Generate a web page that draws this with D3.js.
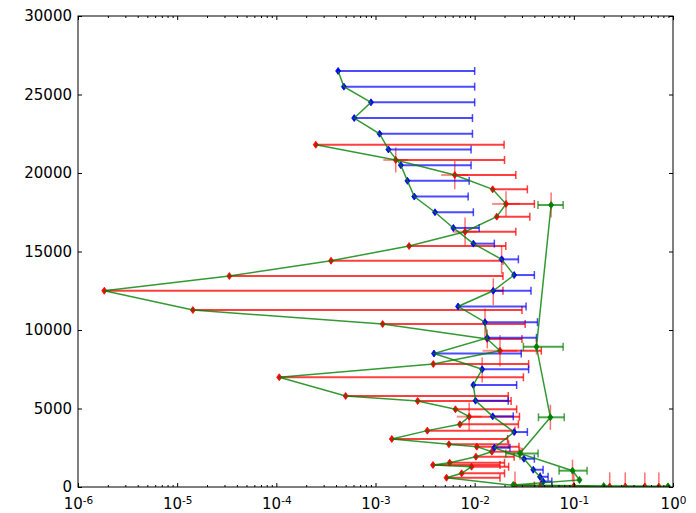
<!DOCTYPE html>
<html>
<head>
<meta charset="utf-8">
<script src="https://cdn.jsdelivr.net/npm/d3@7"></script>
<style>
  body { margin: 0; background: #fff; }
  text { font-family: "DejaVu Sans", sans-serif; }
</style>
</head>
<body>
<div id="chart-area"></div>
<script>
// blue series: points with one-sided (upper) x error
const blueY = [26500, 25500, 24500, 23500, 22500, 21500, 20500, 19500, 18500, 17500,
  16500, 15500, 14500, 13500, 12500, 11500, 10500, 9500, 8500, 7500,
  6500, 5500, 4500, 3500, 2500, 1800, 1100, 650, 350]
const blueX = [4.2e-4, 4.8e-4, 9.0e-4, 6.1e-4, 1.1e-3, 1.35e-3, 1.8e-3, 2.1e-3, 2.46e-3, 3.98e-3,
  6.1e-3, 9.7e-3, 0.0187, 0.025, 0.0154, 6.8e-3, 0.0127, 0.0134, 3.89e-3, 0.0119,
  9.7e-3, 0.0102, 0.0152, 0.025, 0.0158, 0.0314, 0.039, 0.0456, 0.049]
const blueXHi = [0.01, 0.01, 0.01, 0.0095, 0.0095, 0.0092, 0.0092, 0.0088, 0.0086, 0.0097,
  0.0111, 0.0158, 0.0276, 0.04, 0.037, 0.033, 0.043, 0.042, 0.0295, 0.035,
  0.0265, 0.0218, 0.0245, 0.034, 0.0227, 0.04, 0.049, 0.055, 0.06]

// red series
const redY = [21800, 20830, 19870, 18960, 18030, 17220, 16260, 15350, 14410, 13440,
  12500, 11270, 10380, 9430, 8680, 7830, 6990, 5800, 5480, 4950,
  4480, 3990, 3590, 3060, 2720, 2570, 2250, 1930, 1550, 1400,
  1290, 870, 590, 90, 60, 60, 30, 30, 30, 20]
const redX = [2.5e-4, 1.6e-3, 6.3e-3, 0.0152, 0.0207, 0.0167, 8e-3, 2.18e-3, 3.56e-4, 3.36e-5,
  1.84e-6, 1.44e-5, 1.18e-3, 0.0134, 0.018, 3.83e-3, 1.07e-4, 5.0e-4, 2.66e-3, 6.4e-3,
  8.8e-3, 7.1e-3, 3.33e-3, 1.46e-3, 5.5e-3, 0.0105, 0.0149, 0.0103, 5.6e-3, 3.8e-3,
  9.3e-3, 7.4e-3, 5.2e-3, 0.0255, 0.046, 0.10, 0.23, 0.33, 0.52, 0.72]
const redXHi = [0.0198, 0.02, 0.026, 0.034, 0.04, 0.036, 0.026, 0.0206, 0.0193, 0.0193,
  0.0193, 0.03, 0.0323, 0.03, 0.047, 0.035, 0.031, 0.0218, 0.0233, 0.0265,
  0.0283, 0.0276, 0.0255, 0.0215, 0.022, 0.028, 0.03, 0.025, 0.02, 0.018,
  0.022, 0.02, 0.018, 0.04, 0.06, null, null, null, null, null]
const redXLo = [null, 1.2e-3, 4.6e-3, null, 0.015, null, 6e-3, null, null, null,
  null, null, null, null, 0.012, null, null, null, null, null,
  6.6e-3, null, null, null, null, null, null, null, null, null,
  null, null, null, null, null, 0.07, null, null, null, null]
const redYErr = [null, 800, 900, null, 800, null, 900, null, null, null,
  null, null, null, 600, 1000, null, null, null, null, null,
  900, null, null, null, null, null, null, null, null, null,
  null, null, null, 900, 900, 900, 900, 900, 900, 900]

// red vertical errors sitting under blue points
const redLoneX = [0.0187, 0.0154, 0.0127, 0.0119]
const redLoneY = [14460, 12440, 10420, 7450]
const redLoneErr = [900, 850, 950, 800]

// green series
const greenY = [17960, 8930, 4440, 2140, 1040, 450, 130, 60, 40]
const greenX = [0.059, 0.042, 0.058, 0.0286, 0.097, 0.114, 0.0245, 0.2, 0.89]
const greenXLo = [0.0435, 0.031, 0.044, 0.0206, 0.071, null, null, null, null]
const greenXHi = [0.078, 0.078, 0.08, 0.0436, 0.136, null, null, null, null]
const greenYErr = [800, 500, 800, 400, 700, null, null, null, null]

const xExponents = [-6, -5, -4, -3, -2, -1, 0]
const yTicks = [0, 5000, 10000, 15000, 20000, 25000, 30000]

const LEFT = 78, RIGHT = 673, TOP = 16, BOTTOM = 487

const svg = d3.select("#chart-area").append("svg")
  .attr("width", 696)
  .attr("height", 513)

const x = d3.scaleLog().domain([1e-6, 1]).range([LEFT, RIGHT])
const y = d3.scaleLinear().domain([0, 30000]).range([BOTTOM, TOP])

svg.append("defs").append("clipPath").attr("id", "clip")
  .append("rect")
  .attr("x", LEFT).attr("y", TOP)
  .attr("width", RIGHT - LEFT).attr("height", BOTTOM - TOP)

const plot = svg.append("g").attr("clip-path", "url(#clip)")

const zip = (xs, ys) => xs.map((v, i) => ({ x: v, y: ys[i], i }))
const blue = zip(blueX, blueY)
const red = zip(redX, redY)
const green = zip(greenX, greenY)

const CAP = 4

// draw an x error bar from lo to hi with caps
function hbar(g, d, lo, hi, color, op, caps) {
  g.append("line")
    .attr("x1", x(lo)).attr("x2", x(hi))
    .attr("y1", y(d.y)).attr("y2", y(d.y))
    .attr("stroke", color).attr("stroke-width", 2).attr("opacity", op)
  if (caps) {
    caps.forEach(v => {
      g.append("line")
        .attr("x1", x(v)).attr("x2", x(v))
        .attr("y1", y(d.y) - CAP).attr("y2", y(d.y) + CAP)
        .attr("stroke", color).attr("stroke-width", 1.5).attr("opacity", op)
    })
  }
}

function vbar(g, xv, yv, err, color, op) {
  g.append("line")
    .attr("x1", x(xv)).attr("x2", x(xv))
    .attr("y1", y(yv - err)).attr("y2", y(yv + err))
    .attr("stroke", color).attr("stroke-width", 1.5).attr("opacity", op)
}

// red error bars
const redG = plot.append("g")
red.forEach(d => {
  if (redXHi[d.i] != null) hbar(redG, d, d.x, redXHi[d.i], "#ff0000", 0.75, [redXHi[d.i]])
  if (redXLo[d.i] != null) hbar(redG, d, redXLo[d.i], d.x * (d.x / redXLo[d.i]), "#ff0000", 0.45, null)
  if (redYErr[d.i] != null) vbar(redG, d.x, d.y, redYErr[d.i], "#ff0000", 0.55)
})
redLoneX.forEach((v, i) => vbar(redG, v, redLoneY[i], redLoneErr[i], "#ff0000", 0.55))

// blue error bars
const blueG = plot.append("g")
blue.forEach(d => hbar(blueG, d, d.x, blueXHi[d.i], "#0000ff", 0.7, [blueXHi[d.i]]))

// green error bars
const greenG = plot.append("g")
green.forEach(d => {
  if (greenXLo[d.i] != null) hbar(greenG, d, greenXLo[d.i], greenXHi[d.i], "#008000", 0.7, [greenXLo[d.i], greenXHi[d.i]])
  if (greenYErr[d.i] != null) vbar(greenG, d.x, d.y, greenYErr[d.i], "#ff0000", 0.55)
})

// markers
const diamond = (cx, cy) => `M${cx},${cy - 3.5}L${cx + 2.5},${cy}L${cx},${cy + 3.5}L${cx - 2.5},${cy}Z`
function markers(data, color) {
  plot.append("g").selectAll("path")
    .data(data)
    .join("path")
    .attr("d", d => diamond(x(d.x), y(d.y)))
    .attr("fill", color)
    .attr("stroke", color)
    .attr("stroke-width", 0.8)
}
markers(red, "#ff0000")
markers(blue, "#0000ff")
markers(green, "#008000")

// connecting lines, one per series
const line = d3.line().x(d => x(d.x)).y(d => y(d.y))
;[blue, red, green].forEach(s => {
  plot.append("path")
    .attr("d", line(s))
    .attr("fill", "none")
    .attr("stroke", "#008000")
    .attr("stroke-width", 1.5)
    .attr("opacity", 0.8)
})

// frame
svg.append("rect")
  .attr("x", LEFT).attr("y", TOP)
  .attr("width", RIGHT - LEFT).attr("height", BOTTOM - TOP)
  .attr("fill", "none").attr("stroke", "#000").attr("stroke-width", 1)

// y ticks (inward on both sides)
const yAxisG = svg.append("g").attr("transform", `translate(${LEFT},0)`)
  .call(d3.axisLeft(y).tickValues(yTicks).tickSize(-4).tickPadding(6).tickFormat(d3.format("d")))
yAxisG.select(".domain").remove()
yAxisG.selectAll("text").attr("font-size", 15).attr("fill", "#000").attr("font-family", "DejaVu Sans")
const yRightG = svg.append("g").attr("transform", `translate(${RIGHT},0)`)
  .call(d3.axisRight(y).tickValues(yTicks).tickSize(-4).tickFormat(""))
yRightG.select(".domain").remove()

// x ticks: majors at decades, minors 2..9
const majors = xExponents.map(e => Math.pow(10, e))
const minors = []
xExponents.slice(0, -1).forEach(e => {
  for (let k = 2; k <= 9; k++) minors.push(k * Math.pow(10, e))
})

const xBottom = svg.append("g").attr("transform", `translate(0,${BOTTOM})`)
xBottom.call(d3.axisBottom(x).tickValues(majors).tickSize(-4).tickFormat(""))
xBottom.select(".domain").remove()
xBottom.selectAll(".tick text").each(function(d) {
  const t = d3.select(this)
  t.attr("font-size", 15).attr("fill", "#000").attr("font-family", "DejaVu Sans")
    .attr("y", 22).attr("dy", null)
  t.append("tspan").text("10")
  t.append("tspan").attr("dy", "-0.5em").attr("font-size", 10.5).text(Math.round(Math.log10(d)))
})
const xBottomMinor = svg.append("g").attr("transform", `translate(0,${BOTTOM})`)
  .call(d3.axisBottom(x).tickValues(minors).tickSize(-2).tickFormat(""))
xBottomMinor.select(".domain").remove()

const xTop = svg.append("g").attr("transform", `translate(0,${TOP})`)
  .call(d3.axisTop(x).tickValues(majors).tickSize(-4).tickFormat(""))
xTop.select(".domain").remove()
const xTopMinor = svg.append("g").attr("transform", `translate(0,${TOP})`)
  .call(d3.axisTop(x).tickValues(minors).tickSize(-2).tickFormat(""))
xTopMinor.select(".domain").remove()
</script>
</body>
</html>
